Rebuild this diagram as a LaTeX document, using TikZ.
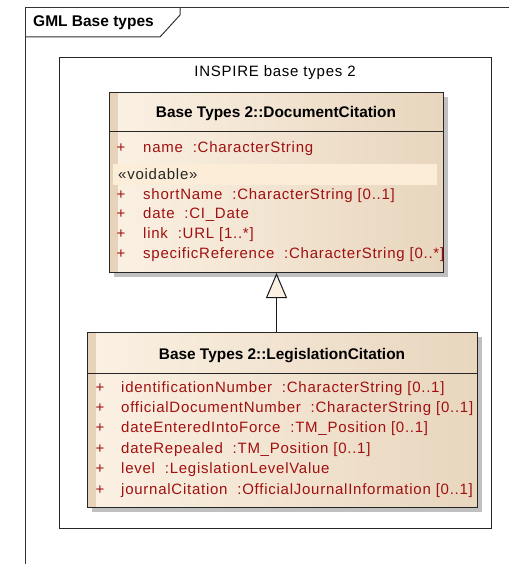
\documentclass[tikz,border=0pt]{standalone}
\usepackage{fontspec}
\setmainfont{Liberation Sans}
\newfontfamily\attrfont[LetterSpace=5]{Liberation Sans}
\usetikzlibrary{arrows.meta}
\definecolor{stripe}{HTML}{E6D3BA}
\definecolor{clsleft}{HTML}{FBF1E3}
\definecolor{clsright}{HTML}{E8D6BE}
\definecolor{vband}{HTML}{FCEDD8}
\definecolor{attrred}{HTML}{A01010}
\definecolor{shadowgray}{HTML}{C0C0C0}
\definecolor{framegray}{HTML}{333333}
\tikzset{
  classbox/.style={draw=black!85, line width=1pt, left color=clsleft, right color=clsright, inner sep=0pt, anchor=north west,
    path picture={\fill[stripe] (path picture bounding box.north west) rectangle ([xshift=8pt]path picture bounding box.south west);}},
  clstitle/.style={font=\normalfont\bfseries\fontsize{15.4}{18}\selectfont, inner sep=0pt},
  plus/.style={text=attrred, font=\attrfont\fontsize{15}{18}\selectfont, anchor=center, inner sep=0pt, text height=11pt, text depth=3pt},
  attr/.style={text=attrred, font=\attrfont\fontsize{15}{18}\selectfont, anchor=west, inner sep=0pt, text height=11pt, text depth=3pt},
  stereo/.style={text=black!85, font=\attrfont\fontsize{15}{18}\selectfont, anchor=west, inner sep=0pt, text height=11pt, text depth=3pt},
  gen/.style={draw=black!90, line width=1pt, -{Triangle[length=25pt, width=21pt, fill=clsleft]}},
  sep/.style={draw=black!85, line width=1pt}
}
\begin{document}
\begin{tikzpicture}[x=1pt, y=-1pt]
\useasboundingbox[fill=white] (0,0) rectangle (509,564);
% outer frame
\draw[framegray, line width=1pt] (25,564) -- (25,8) -- (509,8);
\draw[framegray, line width=1pt] (25,37) -- (160,37) -- (180,15) -- (180,8);
\node[font=\normalfont\bfseries\fontsize{15.5}{18}\selectfont, anchor=west, inner sep=0pt] (frametitle) at (33,22.5) {GML Base types};
% package
\node[draw=black!85, line width=1pt, minimum width=432pt, minimum height=471pt, anchor=north west, inner sep=0pt] (pkg) at (59,57) {};
\node[font=\attrfont\fontsize{15}{18}\selectfont, inner sep=0pt] (pkglabel) at (275,73) {INSPIRE base types 2};
% DocumentCitation
\fill[shadowgray] (114,97) rectangle (448,277);
\node[classbox, minimum width=334pt, minimum height=180pt] (doc) at (109,92) {};
\draw[sep] (109,132) -- (443,132);
\node[clstitle] (doctitle) at (276,114) {Base Types 2::DocumentCitation};
\node[plus] (dp1) at (121,149) {+};
\node[attr] (da1) at (143,149) {name~~:CharacterString};
\fill[vband] (113,164) rectangle (437,185);
\node[stereo] (dst) at (118,175) {«voidable»};
\node[plus] (dp2) at (121,195) {+};
\node[attr] (da2) at (143,195) {shortName~~:CharacterString [0..1]};
\node[plus] (dp3) at (121,214.7) {+};
\node[attr] (da3) at (143,214.7) {date~~:CI\_Date};
\node[plus] (dp4) at (121,234.3) {+};
\node[attr] (da4) at (143,234.3) {link~~:URL [1..*]};
\node[plus] (dp5) at (121,254) {+};
\node[attr] (da5) at (143,254) {specificReference~~:CharacterString [0..*]};
% LegislationCitation
\fill[shadowgray] (92,337) rectangle (482,512);
\node[classbox, minimum width=390pt, minimum height=175pt] (leg) at (87,332) {};
\draw[sep] (87,373) -- (477,373);
\node[clstitle] (legtitle) at (282,356) {Base Types 2::LegislationCitation};
\node[plus] (lp1) at (100,388) {+};
\node[attr] (la1) at (121,388) {identificationNumber~~:CharacterString [0..1]};
\node[plus] (lp2) at (100,408.4) {+};
\node[attr] (la2) at (121,408.4) {officialDocumentNumber~~:CharacterString [0..1]};
\node[plus] (lp3) at (100,428.8) {+};
\node[attr] (la3) at (121,428.8) {dateEnteredIntoForce~~:TM\_Position [0..1]};
\node[plus] (lp4) at (100,449.2) {+};
\node[attr] (la4) at (121,449.2) {dateRepealed~~:TM\_Position [0..1]};
\node[plus] (lp5) at (100,469.6) {+};
\node[attr] (la5) at (121,469.6) {level~~:LegislationLevelValue};
\node[plus] (lp6) at (100,490) {+};
\node[attr] (la6) at (121,490) {journalCitation~~:OfficialJournalInformation [0..1]};
% generalization
\draw[gen] (leg.north -| doc.south) -- (doc.south);
\end{tikzpicture}
\end{document}
